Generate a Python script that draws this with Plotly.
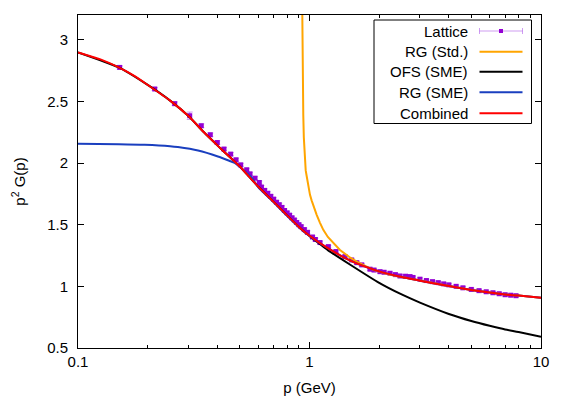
import plotly.graph_objects as go

# ---------------- data ----------------
lat_p = [0.1514, 0.2145, 0.2617, 0.3038, 0.3408, 0.3728, 0.3997, 0.4272, 0.4566, 0.4816,
         0.5045, 0.5355, 0.5534, 0.5816, 0.6069, 0.62, 0.64, 0.66, 0.68, 0.70, 0.72, 0.74,
         0.76, 0.78, 0.80, 0.82, 0.84, 0.86, 0.88, 0.90, 0.92, 0.95, 0.98, 1.03, 1.06,
         1.110, 1.206, 1.30, 1.423, 1.521, 1.60, 1.681, 1.825, 1.90, 2.016, 2.10, 2.227,
         2.35, 2.46, 2.60, 2.718, 2.80, 3.0, 3.2, 3.4, 3.6, 3.8, 4.0, 4.3, 4.6, 5.0, 5.4,
         5.8, 6.2, 6.6, 7.0, 7.4, 7.8]
lat_y = [2.775, 2.600, 2.481, 2.383, 2.302, 2.229, 2.166, 2.113, 2.072, 2.026,
         1.985, 1.945, 1.912, 1.877, 1.842, 1.805, 1.778, 1.755, 1.730, 1.707, 1.682, 1.662,
         1.640, 1.615, 1.596, 1.577, 1.556, 1.538, 1.518, 1.500, 1.484, 1.460, 1.438, 1.400, 1.380,
         1.355, 1.322, 1.282, 1.241, 1.214, 1.192, 1.174, 1.139, 1.132, 1.119, 1.114, 1.106,
         1.095, 1.084, 1.082, 1.079, 1.072, 1.058, 1.047, 1.038, 1.030, 1.020, 1.012, 1.000, 0.988,
         0.975, 0.965, 0.956, 0.948, 0.940, 0.932, 0.928, 0.924]
lat_err = [0.012, 0.012, 0.014, 0.030, 0.015, 0.014, 0.014, 0.013, 0.013, 0.012,
           0.012, 0.012, 0.012, 0.012, 0.012, 0.012, 0.012, 0.012, 0.012, 0.012, 0.012, 0.012,
           0.012, 0.012, 0.012, 0.012, 0.012, 0.012, 0.012, 0.012, 0.012, 0.012, 0.012, 0.010, 0.010,
           0.010, 0.010, 0.010, 0.010, 0.010, 0.010, 0.010, 0.010, 0.010, 0.010, 0.010, 0.010,
           0.010, 0.010, 0.010, 0.010, 0.010, 0.010, 0.010, 0.010, 0.010, 0.010, 0.010, 0.010, 0.010,
           0.010, 0.010, 0.010, 0.010, 0.010, 0.010, 0.010, 0.010]

std_p = [0.931, 0.9315, 0.933, 0.935, 0.937, 0.940, 0.945, 0.950, 0.956, 0.963, 0.970, 0.985,
         1.005, 1.022, 1.039, 1.056, 1.074, 1.11, 1.147, 1.20, 1.289, 1.354, 1.50, 1.60, 1.887,
         2.227, 2.5, 3.0, 4.0, 5.0, 6.0, 7.0, 8.0, 10.0]
std_y = [3.20, 3.12, 2.95, 2.75, 2.58, 2.39, 2.21, 2.09, 1.985, 1.940, 1.905, 1.825,
         1.742, 1.695, 1.655, 1.615, 1.580, 1.515, 1.458, 1.400, 1.336, 1.295, 1.232, 1.200, 1.133,
         1.093, 1.075, 1.046, 1.002, 0.971, 0.950, 0.933, 0.925, 0.908]

ofs_p = [0.1, 0.15, 0.2, 0.25, 0.3, 0.35, 0.4, 0.45, 0.5, 0.6, 0.7, 0.8, 0.9, 1.0, 1.1, 1.2,
         1.5, 2.0, 2.5, 3.0, 4.0, 5.0, 6.0, 7.0, 8.0, 10.0]
ofs_y = [2.897, 2.775, 2.633, 2.506, 2.381, 2.249, 2.143, 2.052, 1.972, 1.809, 1.685, 1.575,
         1.482, 1.408, 1.348, 1.294, 1.175, 1.028, 0.934, 0.868, 0.776, 0.719, 0.680, 0.650,
         0.630, 0.592]

sme_p = [0.1, 0.15, 0.194, 0.25, 0.27, 0.33, 0.402, 0.45, 0.475, 0.5, 0.561, 0.6, 0.7, 0.8,
         0.9, 1.0, 1.2, 1.5, 2.0, 2.5, 3.0, 4.0, 5.0, 6.0, 7.0, 8.0, 10.0]
sme_y = [2.156, 2.153, 2.148, 2.136, 2.129, 2.101, 2.053, 2.018, 2.000, 1.968, 1.885, 1.805,
         1.682, 1.572, 1.480, 1.408, 1.309, 1.208, 1.121, 1.075, 1.046, 1.002, 0.971, 0.950,
         0.933, 0.925, 0.908]

comb_p = [0.1, 0.125, 0.15, 0.175, 0.2, 0.25, 0.3, 0.35, 0.4, 0.45, 0.5, 0.6, 0.7, 0.8, 0.9,
          1.0, 1.2, 1.5, 2.0, 2.5, 3.0, 4.0, 5.0, 6.0, 7.0, 8.0, 10.0]
comb_y = [2.897, 2.840, 2.775, 2.706, 2.633, 2.506, 2.381, 2.249, 2.143, 2.052, 1.972, 1.809,
          1.685, 1.575, 1.482, 1.410, 1.309, 1.208, 1.121, 1.075, 1.046, 1.002, 0.971, 0.950,
          0.933, 0.925, 0.908]

x_ticks = [0.1, 1, 10]
x_labels = ["0.1", "1", "10"]
x_minor = [0.2, 0.3, 0.4, 0.5, 0.6, 0.7, 0.8, 0.9, 2, 3, 4, 5, 6, 7, 8, 9]
y_ticks = [0.5, 1.0, 1.5, 2.0, 2.5, 3.0]
y_labels = ["0.5", "1", "1.5", "2", "2.5", "3"]

legend_names = ["Lattice", "RG (Std.)", "OFS (SME)", "RG (SME)", "Combined"]

# ---------------- styles ----------------
PURPLE = "#9400d3"
ERRCOL = "rgba(160,60,230,0.5)"
ORANGE = "#ffa500"
BLACK = "#000000"
BLUE = "#1a3fbf"
RED = "#ff0000"
FONT = "Liberation Sans, Arial, sans-serif"

fig = go.Figure()
fig.add_trace(go.Scatter(x=lat_p, y=lat_y, mode="markers", name=legend_names[0],
                         marker=dict(symbol="square", size=5, color=PURPLE),
                         error_y=dict(type="data", array=lat_err, visible=True,
                                      color=ERRCOL, thickness=1, width=3),
                         showlegend=False))
fig.add_trace(go.Scatter(x=std_p, y=std_y, mode="lines", name=legend_names[1],
                         line=dict(color=ORANGE, width=2), showlegend=False))
fig.add_trace(go.Scatter(x=ofs_p, y=ofs_y, mode="lines", name=legend_names[2],
                         line=dict(color=BLACK, width=2, shape="spline", smoothing=0.6),
                         showlegend=False))
fig.add_trace(go.Scatter(x=sme_p, y=sme_y, mode="lines", name=legend_names[3],
                         line=dict(color=BLUE, width=2, shape="spline", smoothing=0.6),
                         showlegend=False))
fig.add_trace(go.Scatter(x=comb_p, y=comb_y, mode="lines", name=legend_names[4],
                         line=dict(color=RED, width=2, shape="spline", smoothing=0.6),
                         showlegend=False))

# ---------------- manual gnuplot-style key ----------------
L, R, T, B = 78, 541, 15, 348
def px(xp):
    return (xp - L) / (R - L)
def py(yp):
    return (B - yp) / (B - T)

shapes = [dict(type="rect", xref="paper", yref="paper", x0=px(374), x1=px(531.5),
               y0=py(123.5), y1=py(20), line=dict(color="black", width=1))]
annotations = []
rows = [31, 51.7, 71.7, 92.3, 113.3]
colors = [ERRCOL, ORANGE, BLACK, BLUE, RED]
for i, name in enumerate(legend_names):
    yy = py(rows[i])
    annotations.append(dict(text=name, xref="paper", yref="paper", x=px(470), y=yy,
                            xanchor="right", yanchor="middle", showarrow=False,
                            font=dict(family=FONT, size=15, color="black")))
    shapes.append(dict(type="line", xref="paper", yref="paper", x0=px(479.5), x1=px(522.5),
                       y0=yy, y1=yy, line=dict(color=colors[i], width=1 if i == 0 else 2)))
for xc in (479.5, 522.5):
    shapes.append(dict(type="line", xref="paper", yref="paper", x0=px(xc), x1=px(xc),
                       y0=py(rows[0] - 3), y1=py(rows[0] + 3), line=dict(color=ERRCOL, width=1)))
shapes.append(dict(type="rect", xref="paper", yref="paper", x0=px(499), x1=px(503),
                   y0=py(rows[0] + 2), y1=py(rows[0] - 2), fillcolor=PURPLE,
                   line=dict(width=0)))

axis_common = dict(showline=True, linecolor="black", linewidth=1, mirror="allticks",
                   ticks="inside", ticklen=6, tickcolor="black", showgrid=False,
                   zeroline=False, automargin=False,
                   tickfont=dict(family=FONT, size=15, color="black"))

fig.update_layout(
    width=570, height=399,
    margin=dict(l=L, r=570 - R, t=T, b=399 - B),
    paper_bgcolor="white", plot_bgcolor="white",
    font=dict(family=FONT, size=15, color="black"),
    xaxis=dict(type="log", range=[-1, 1], tickmode="array", tickvals=x_ticks,
               ticktext=x_labels,
               minor=dict(tickmode="array", tickvals=x_minor, ticks="inside", ticklen=3,
                          tickcolor="black"),
               title=dict(text="p (GeV)", font=dict(family=FONT, size=15), standoff=13),
               **axis_common),
    yaxis=dict(range=[0.5, 3.2], tickmode="array", tickvals=y_ticks, ticktext=y_labels,
               ticklabelstandoff=6,
               title=dict(text="p<sup>2</sup> G(p)", font=dict(family=FONT, size=15), standoff=17),
               **axis_common),
    shapes=shapes, annotations=annotations, showlegend=False,
)

fig.write_html("out.html", config={"displayModeBar": False},
               post_script="document.body.style.margin='0';document.body.style.padding='0';")
